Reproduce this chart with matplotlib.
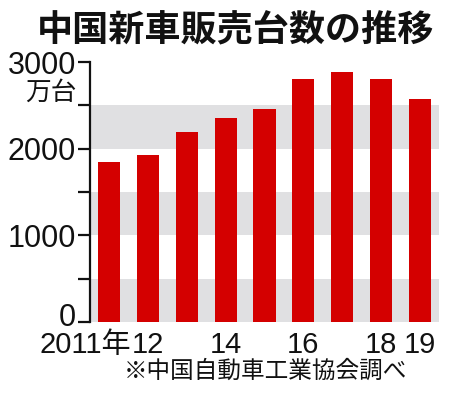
import matplotlib
matplotlib.use("Agg")
import matplotlib.pyplot as plt
from matplotlib.transforms import blended_transform_factory, ScaledTranslation

plt.rcParams['font.family'] = ['Liberation Sans', 'Noto Sans CJK JP', 'DejaVu Sans']

years = [2011, 2012, 2013, 2014, 2015, 2016, 2017, 2018, 2019]
sales = [1851, 1931, 2198, 2349, 2460, 2803, 2888, 2808, 2577]
xtick_pos = [2011, 2012, 2014, 2016, 2018, 2019]
xtick_labels = ["2011年", "12", "14", "16", "18", "19"]
ytick_major = [0, 1000, 2000, 3000]
ytick_minor = [500, 1500, 2500]
ytick_labels = ["0", "1000", "2000", "3000"]
bands = [(0, 500), (1000, 1500), (2000, 2500)]
title = "中国新車販売台数の推移"
unit = "万台"
source = "※中国自動車工業協会調べ"

W, H = 450, 394
fig = plt.figure(figsize=(W / 100, H / 100), dpi=100)
ax = fig.add_axes([90 / W, (H - 322) / H, 349 / W, 260 / H])

red = "#d40000"
gray = "#e0e0e2"

for lo, hi in bands:
    ax.axhspan(lo, hi, color=gray, lw=0, zorder=0)

ax.bar(years, sales, width=0.57, color=red, zorder=2)

ax.set_xlim(2010.51, 2019.49)
ax.set_ylim(0, 3000)

for s in ["top", "right", "bottom"]:
    ax.spines[s].set_visible(False)
ax.spines["left"].set_linewidth(1.6)
ax.spines["left"].set_color("#111111")

ax.set_yticks(ytick_major)
ax.set_yticklabels(ytick_labels, fontsize=22)
ax.set_yticks(ytick_minor, minor=True)
ax.tick_params(axis="y", which="both", direction="out", length=9, width=1.6,
               color="#111111", pad=1, labelcolor="#111111")
ax.set_xticks([])

# lift the "0" label so it sits above the baseline like the reference
zero_lab = ax.get_yticklabels()[0]
zero_lab.set_transform(zero_lab.get_transform() +
                       ScaledTranslation(0, 8 / 100, fig.dpi_scale_trans))

trans = blended_transform_factory(ax.transData, ax.transAxes)
for pos, lab in zip(xtick_pos, xtick_labels):
    if lab.endswith("年"):
        ax.text(pos + 0.56, -20 / 260, lab, transform=trans, ha="right",
                va="center_baseline", fontsize=21, color="#111111")
    else:
        ax.text(pos, -20 / 260, lab, transform=trans, ha="center",
                va="center_baseline", fontsize=21, color="#111111")

fig.text(236 / W, 1 - 31 / H, title, ha="center", va="center",
         fontsize=26, fontweight="bold", color="#111111",
         family=['Noto Sans CJK JP', 'DejaVu Sans'])
fig.text(77 / W, 1 - 93 / H, unit, ha="right", va="center",
         fontsize=18.5, color="#111111", family=['Noto Sans CJK JP', 'DejaVu Sans'])
fig.text(265 / W, 1 - 371 / H, source, ha="center", va="center",
         fontsize=17, color="#111111", family=['Noto Sans CJK JP', 'DejaVu Sans'])

fig.savefig("out.png", dpi=100)
